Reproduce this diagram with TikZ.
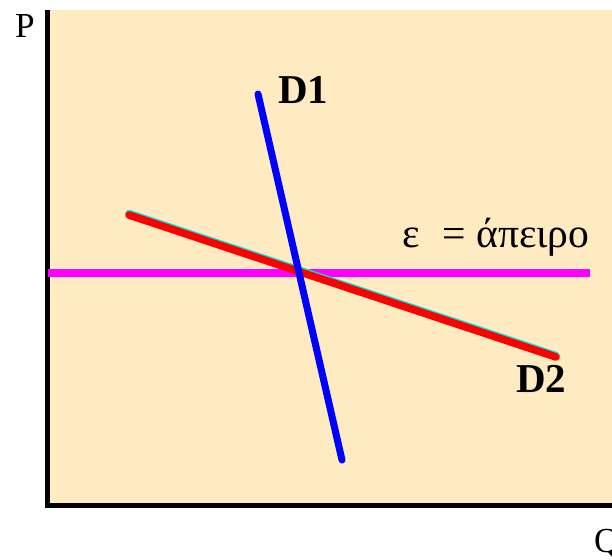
\documentclass[tikz,border=0pt]{standalone}
\usepackage{fontspec}
\setmainfont{Liberation Serif}
\definecolor{beige}{RGB}{255,235,193}
\definecolor{flatline}{RGB}{255,0,255}
\definecolor{dred}{RGB}{255,0,0}
\definecolor{dblue}{RGB}{0,0,255}
\definecolor{dcyan}{RGB}{0,230,230}
\begin{document}
\begin{tikzpicture}[x=0.03cm,y=-0.03cm,
    lbl/.style={anchor=base west,inner sep=0pt,font=\fontsize{35.5}{40}\selectfont},
    axlbl/.style={anchor=base west,inner sep=0pt,font=\fontsize{30}{36}\selectfont},
    curve/.style={line width=6.5pt,line cap=round}]
    \useasboundingbox[fill=white] (0,0) rectangle (612,560);
    \fill[beige] (50,10) rectangle (612,503);
    \draw[line width=4.3pt] (47.5,10) -- (47.5,505.5) -- (612,505.5);
    \node[axlbl] (P) at (15,37) {P};
    \node[axlbl] (Q) at (594,552) {Q};
    \coordinate (h1) at (48,273);
    \coordinate (h2) at (590,273);
    \coordinate (d1a) at (258,94);
    \coordinate (d1b) at (342,460);
    \coordinate (d2a) at (129,215);
    \coordinate (d2b) at (556,357);
    \draw[curve,flatline,line cap=butt] (h1) -- (h2);
    \draw[curve,dcyan] ([yshift=1.2pt]d2a) -- ([yshift=1.2pt]d2b);
    \draw[curve,dred] (d2a) -- (d2b);
    \draw[curve,dblue,line width=6pt] (d1a) -- (d1b);
    \node[lbl,font=\fontsize{35}{40}\selectfont\bfseries] (D1) at (278,103) {D1};
    \node[lbl,font=\fontsize{35}{40}\selectfont\bfseries] (D2) at (516,392) {D2};
    \node[lbl] (eps) at (402,247) {ε\hspace{0.55em}= άπειρο};
\end{tikzpicture}
\end{document}
